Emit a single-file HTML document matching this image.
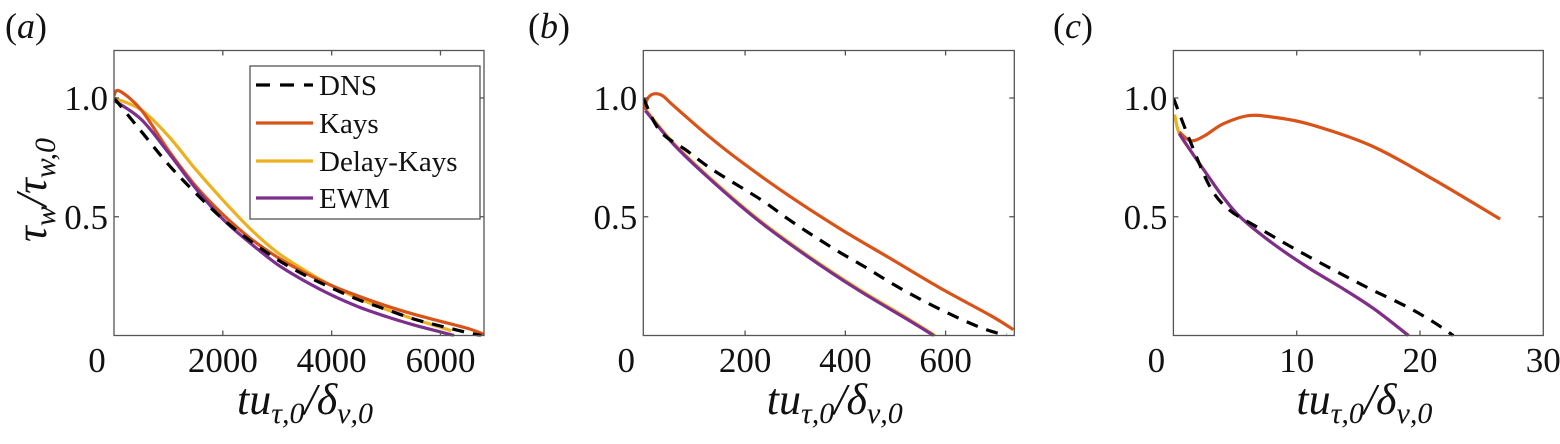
<!DOCTYPE html>
<html><head><meta charset="utf-8">
<style>
html,body{margin:0;padding:0;background:#fff;}
svg, svg text{font-family:"Liberation Serif","DejaVu Serif",serif;}
</style></head>
<body>
<svg id="fig" width="1560" height="439" viewBox="0 0 1560 439" font-family="Liberation Serif, DejaVu Serif, serif" xmlns="http://www.w3.org/2000/svg"></svg>
<script>
// ---------- data ----------
// panel a
const aDnsX = [0,500,1000,1500,2000,2500,3000,3500,4000,4500,5000,5500,6000,6500,6750];
const aDnsY = [1.0,0.86,0.72,0.6,0.49,0.4,0.32,0.255,0.2,0.15,0.11,0.07,0.04,0.012,0.0];
const aKaysX = [0,100,500,1000,1500,2000,2500,3000,3500,4000,4500,5000,5500,6000,6500,6800];
const aKaysY = [1.01,1.03,0.95,0.78,0.63,0.51,0.41,0.33,0.265,0.21,0.165,0.125,0.09,0.06,0.03,0.005];
const aDelayX = [0,500,1000,1500,2000,2500,3000,3500,4000,4500,5000,5500,6000,6200];
const aDelayY = [1.0,0.95,0.84,0.7,0.57,0.45,0.35,0.275,0.21,0.155,0.11,0.07,0.035,0.02];
const aEwmX = [0,500,1000,1500,2000,2500,3000,3500,4000,4500,5000,5500,6000,6250];
const aEwmY = [0.99,0.91,0.77,0.62,0.49,0.39,0.3,0.23,0.17,0.12,0.08,0.045,0.015,0.0];
// panel b
const bDnsX = [-3,30,84,134,233,286,336,389,442,496,552,609,662,700,722];
const bDnsY = [1.0,0.862,0.778,0.70,0.57,0.49,0.42,0.35,0.285,0.215,0.15,0.09,0.04,0.012,0.003];
const bKaysX = [-1,5,17,35,57,124,190,290,389,489,589,689,735];
const bKaysY = [0.95,0.995,1.017,1.01,0.968,0.845,0.735,0.585,0.45,0.325,0.2,0.085,0.025];
const bDelayX = [-1,1,57,124,223,323,423,522,579];
const bDelayY = [0.975,0.955,0.811,0.675,0.495,0.34,0.2,0.075,0.0];
const bEwmX = [1,57,124,223,323,423,522,576];
const bEwmY = [0.947,0.806,0.67,0.49,0.335,0.195,0.07,0.0];
// panel c
const cDnsX = [0,1.35,2.97,4.5,6.75,10,13.5,16,18.9,21,22.7];
const cDnsY = [1.0,0.82,0.626,0.53,0.458,0.36,0.262,0.195,0.122,0.06,0.0];
const cKaysX = [0.48,1.4,2.5,4,6,8,11,16,21,26.5];
const cKaysY = [0.857,0.82,0.84,0.89,0.925,0.92,0.89,0.8,0.66,0.49];
const cDelayX = [0.1,0.48,1.5,2.7,4,5.4,8,10.8,13.5,16.2,19.1];
const cDelayY = [0.93,0.85,0.77,0.68,0.585,0.5,0.39,0.29,0.205,0.115,0.0];
const cEwmX = [0.48,1.5,2.7,4,5.4,8,10.8,13.5,16.2,19.05];
const cEwmY = [0.85,0.77,0.68,0.585,0.5,0.39,0.29,0.205,0.115,0.0];
// ticks
const aXTicks = [0,2000,4000,6000];
const bXTicks = [0,200,400,600];
const cXTicks = [0,10,20,30];
const yTicks = [0.5,1.0];
const yTickLabels = ["0.5","1.0"];
const legendLabels = ["DNS","Kays","Delay-Kays","EWM"];

// ---------- drawing ----------
const NS="http://www.w3.org/2000/svg";
const svg=document.getElementById('fig');
const FF='Liberation Serif, DejaVu Serif, serif';
function mk(tag,attrs,parent){const e=document.createElementNS(NS,tag);for(const k in attrs)e.setAttribute(k,attrs[k]);if(tag==='text')e.setAttribute('font-family',FF);(parent||svg).appendChild(e);return e;}
const COL={dns:"#000",kays:"#D95319",delay:"#EDB120",ewm:"#7E2F8E"};
const TOP=50.5,BOT=335.5,YMAX=1.2;

function smoothPath(P){
  let d='M'+P[0][0].toFixed(1)+','+P[0][1].toFixed(1);
  for(let i=0;i<P.length-1;i++){
    const p0=P[Math.max(0,i-1)],p1=P[i],p2=P[i+1],p3=P[Math.min(P.length-1,i+2)];
    const c1x=p1[0]+(p2[0]-p0[0])/6,c1y=p1[1]+(p2[1]-p0[1])/6;
    const c2x=p2[0]-(p3[0]-p1[0])/6,c2y=p2[1]-(p3[1]-p1[1])/6;
    d+=' C'+c1x.toFixed(1)+','+c1y.toFixed(1)+' '+c2x.toFixed(1)+','+c2y.toFixed(1)+' '+p2[0].toFixed(1)+','+p2[1].toFixed(1);
  }
  return d;
}

function panel(id,left,right,xmin,xmax,xticks,series,letter,lx){
  const g=mk('g',{});
  
  
  const xs=v=>left+(v-xmin)/(xmax-xmin)*(right-left);
  const ys=v=>BOT-v/YMAX*(BOT-TOP);
  const clipId='clip-'+id;
  const cp=mk('clipPath',{id:clipId},g);mk('rect',{x:left,y:TOP-3,width:right-left+3,height:BOT-TOP+4},cp);
  series.forEach(s=>{
    const P=s.x.map((v,i)=>[xs(v),ys(s.y[i])]);
    const p=mk('path',{d:smoothPath(P),fill:'none',stroke:s.c,'stroke-width':3.2,'stroke-linejoin':'round','clip-path':'url(#'+clipId+')'},g);
    if(s.dash)p.setAttribute('stroke-dasharray','12,9');
    
    
  });
  const fr=mk('rect',{x:left,y:TOP,width:right-left,height:BOT-TOP,fill:'none',stroke:'#555','stroke-width':1.3},g);
  
  
  xticks.forEach(t=>{
    const x=xs(t);
    if(t>xmin+1e-9&&t<xmax&&t!==0){mk('line',{x1:x,y1:BOT,x2:x,y2:BOT-5,stroke:'#555','stroke-width':1.3},g);mk('line',{x1:x,y1:TOP,x2:x,y2:TOP+5,stroke:'#555','stroke-width':1.3},g);}
    const tx=mk('text',{x:t===0?left-17:x,y:372,'font-size':35,'text-anchor':'middle',fill:'#111'},g);
    tx.textContent=String(t);
    
    
  });
  yTicks.forEach((t,i)=>{
    const y=ys(t);
    mk('line',{x1:left,y1:y,x2:left+5,y2:y,stroke:'#555','stroke-width':1.3},g);
    mk('line',{x1:right,y1:y,x2:right-5,y2:y,stroke:'#555','stroke-width':1.3},g);
    const tx=mk('text',{x:left-6,y:y+12,'font-size':35,'text-anchor':'end',fill:'#111'},g);
    tx.textContent=yTickLabels[i];
    
    
  });
  const cx=(left+right)/2;
  const xt=mk('text',{x:cx+6,y:414,'font-size':44,'text-anchor':'middle',fill:'#111','font-style':'italic'},g);
  xt.innerHTML='tu<tspan font-size="30" dy="9">τ,0</tspan><tspan dy="-9">/δ</tspan><tspan font-size="30" dy="9">ν,0</tspan>';
  
  
  const pl=mk('text',{x:lx,y:38,'font-size':36,fill:'#111'},g);
  pl.innerHTML='(<tspan font-style="italic">'+letter+'</tspan>)';
  
  
}

function mkSeries(X1,Y1,X2,Y2,X3,Y3,X4,Y4){
  return [
    {name:'delay-kays',x:X3,y:Y3,c:COL.delay},
    {name:'kays',x:X2,y:Y2,c:COL.kays},
    {name:'ewm',x:X4,y:Y4,c:COL.ewm},
    {name:'dns',x:X1,y:Y1,c:COL.dns,dash:true}
  ];
}
panel('a',114,484,0,6800,aXTicks,mkSeries(aDnsX,aDnsY,aKaysX,aKaysY,aDelayX,aDelayY,aEwmX,aEwmY),'a',5);
panel('b',643.3,1014.3,-3,737,bXTicks,mkSeries(bDnsX,bDnsY,bKaysX,bKaysY,bDelayX,bDelayY,bEwmX,bEwmY),'b',528);
panel('c',1173.4,1543.3,0,30,cXTicks,mkSeries(cDnsX,cDnsY,cKaysX,cKaysY,cDelayX,cDelayY,cEwmX,cEwmY),'c',1053);

const yt=mk('text',{x:0,y:0,'font-size':44,'text-anchor':'middle',fill:'#111','font-style':'italic',transform:'translate(46,190) rotate(-90)'});
yt.innerHTML='τ<tspan font-size="30" dy="9">w</tspan><tspan dy="-9">/τ</tspan><tspan font-size="30" dy="9">w,0</tspan>';



const lg=mk('g',{});


mk('rect',{x:250,y:66,width:230,height:153,fill:'#fff',stroke:'#555','stroke-width':1.3},lg);
const legCols=[COL.dns,COL.kays,COL.delay,COL.ewm];
const legY=[85,123,161,198];
legendLabels.forEach((lab,i)=>{
  const e=mk('g',{},lg);
  
  
  const l=mk('line',{x1:256,y1:legY[i],x2:313,y2:legY[i],stroke:legCols[i],'stroke-width':3.2},e);
  if(i===0)l.setAttribute('stroke-dasharray','14,10');
  const t=mk('text',{x:319,y:legY[i]+10,'font-size':29,fill:'#111'},e);
  t.textContent=lab;
});
</script>
</body></html>
